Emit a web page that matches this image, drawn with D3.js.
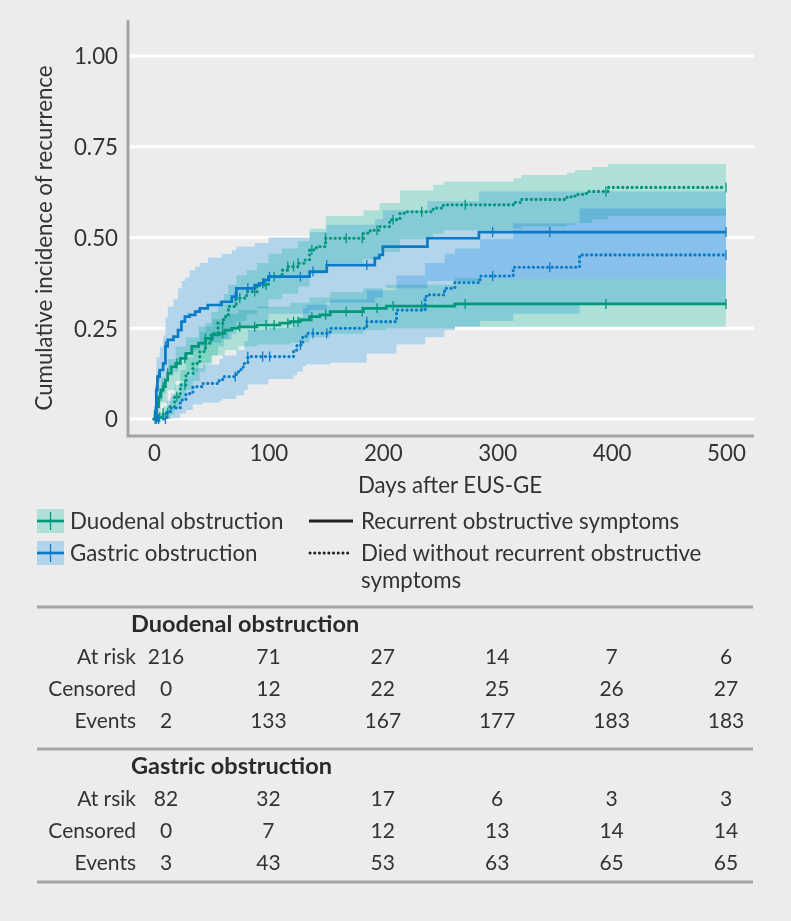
<!DOCTYPE html>
<html>
<head>
<meta charset="utf-8">
<script src="https://cdn.jsdelivr.net/npm/d3@7"></script>
<style>
  body { margin: 0; background: #ebeceb; }
  svg { display: block; font-family: Lato, "Open Sans", sans-serif; }
  .band { mix-blend-mode: multiply; }
</style>
</head>
<body>
<svg id="chart" width="791" height="921"></svg>
<script>
var width = 791;
var height = 921;

// x ticks and y ticks
var xTicks = [0, 100, 200, 300, 400, 500];
var yTicks = [0, 0.25, 0.5, 0.75, 1.0];
var yTickLabels = ["0", "0.25", "0.50", "0.75", "1.00"];

// Duodenal obstruction, recurrent obstructive symptoms [t, estimate]
var duoRecur = [[0,0],[1,0.01],[2,0.034],[4,0.061],[6,0.08],[8,0.089],[10,0.107],[12,0.126],[15,0.144],[19,0.153],[23,0.167],[28,0.181],[33,0.2],[39,0.209],[45,0.222],[51,0.232],[57,0.236],[62,0.245],[68,0.25],[74,0.254],[90,0.259],[110,0.264],[119,0.268],[128,0.273],[136,0.282],[145,0.287],[154,0.296],[183,0.305],[203,0.311],[263,0.317]];
// [t, lower, upper]
var duoRecurCI = [[0,0,0.01],[2,0.01,0.06],[6,0.045,0.115],[12,0.08,0.165],[19,0.105,0.2],[28,0.13,0.225],[39,0.155,0.255],[51,0.175,0.275],[62,0.19,0.29],[74,0.2,0.3],[90,0.205,0.31],[119,0.21,0.32],[136,0.225,0.335],[154,0.235,0.35],[183,0.245,0.36],[203,0.25,0.37],[263,0.254,0.388]];

// Duodenal obstruction, died without recurrence
var duoDied = [[0,0],[2,0.005],[8,0.016],[14,0.034],[18,0.061],[23,0.094],[28,0.126],[34,0.153],[40,0.186],[45,0.209],[50,0.236],[56,0.264],[61,0.282],[65,0.31],[72,0.333],[81,0.351],[90,0.369],[100,0.392],[112,0.41],[117,0.42],[126,0.429],[132,0.438],[136,0.466],[142,0.475],[150,0.498],[183,0.512],[189,0.52],[197,0.53],[206,0.549],[215,0.567],[221,0.571],[244,0.581],[253,0.59],[314,0.597],[321,0.605],[361,0.612],[368,0.619],[378,0.627],[397,0.638]];
var duoDiedCI = [[0,0,0.01],[8,0,0.035],[14,0.01,0.06],[18,0.03,0.095],[23,0.055,0.135],[28,0.08,0.17],[34,0.105,0.2],[40,0.13,0.24],[45,0.15,0.265],[50,0.175,0.295],[56,0.2,0.325],[61,0.22,0.345],[65,0.245,0.37],[72,0.27,0.395],[81,0.29,0.41],[90,0.305,0.43],[100,0.33,0.455],[112,0.345,0.47],[126,0.365,0.49],[136,0.4,0.525],[150,0.43,0.56],[183,0.44,0.575],[197,0.46,0.595],[215,0.495,0.63],[244,0.51,0.645],[253,0.52,0.654],[314,0.525,0.663],[321,0.53,0.672],[361,0.535,0.679],[368,0.54,0.686],[383,0.55,0.694],[397,0.56,0.703]];

// Gastric obstruction, recurrent obstructive symptoms
var gasRecur = [[0,0],[1,0.02],[2,0.08],[3,0.117],[5,0.135],[8,0.153],[10,0.2],[12,0.218],[17,0.227],[21,0.245],[24,0.268],[27,0.282],[31,0.287],[36,0.296],[40,0.305],[47,0.314],[59,0.323],[68,0.337],[72,0.36],[88,0.369],[92,0.374],[96,0.383],[100,0.392],[136,0.406],[151,0.424],[193,0.443],[197,0.452],[200,0.475],[239,0.498],[284,0.515]];
var gasRecurCI = [[0,0,0.02],[1,0,0.06],[2,0.03,0.17],[5,0.05,0.2],[8,0.07,0.23],[10,0.11,0.28],[12,0.12,0.31],[17,0.13,0.33],[21,0.15,0.36],[24,0.17,0.38],[27,0.18,0.39],[31,0.185,0.41],[36,0.19,0.42],[40,0.2,0.43],[47,0.21,0.445],[59,0.22,0.455],[68,0.235,0.465],[72,0.255,0.475],[88,0.265,0.485],[100,0.29,0.5],[136,0.3,0.515],[151,0.32,0.535],[193,0.335,0.55],[200,0.36,0.575],[239,0.38,0.6],[284,0.388,0.627]];

// Gastric obstruction, died without recurrence
var gasDied = [[0,0],[11,0.02],[15,0.03],[23,0.052],[28,0.07],[34,0.089],[43,0.098],[57,0.107],[60,0.117],[72,0.13],[76,0.143],[79,0.153],[82,0.172],[122,0.19],[125,0.204],[130,0.227],[133,0.236],[154,0.25],[186,0.268],[212,0.3],[237,0.328],[238,0.342],[254,0.36],[263,0.376],[285,0.394],[314,0.418],[372,0.452]];
var gasDiedCI = [[0,0,0.01],[11,0,0.05],[15,0.003,0.07],[23,0.015,0.1],[28,0.025,0.12],[34,0.04,0.14],[43,0.045,0.15],[57,0.05,0.165],[60,0.055,0.175],[72,0.065,0.19],[79,0.08,0.215],[82,0.095,0.245],[100,0.11,0.25],[122,0.12,0.265],[125,0.13,0.28],[130,0.145,0.305],[133,0.15,0.315],[154,0.155,0.33],[186,0.18,0.355],[212,0.205,0.395],[237,0.225,0.43],[254,0.245,0.455],[263,0.255,0.47],[285,0.27,0.495],[314,0.29,0.539],[372,0.32,0.58]];

// censoring times per group
var duoCensor = [2,3,5,8,12,20,27,45,60,75,88,98,105,117,122,126,138,150,168,182,195,209,234,272,395,500];
var gasCensor = [1,2,4,10,71,82,95,101,128,139,151,186,296,346,500];

// number at risk table
var tableTimes = [0, 100, 200, 300, 400, 500];
var rowNames = ["At risk", "Censored", "Events"];
var rowNamesGas = ["At rsik", "Censored", "Events"];
var duoAtRisk = [216, 71, 27, 14, 7, 6];
var duoCensored = [0, 12, 22, 25, 26, 27];
var duoEvents = [2, 133, 167, 177, 183, 183];
var gasAtRisk = [82, 32, 17, 6, 3, 3];
var gasCensored = [0, 7, 12, 13, 14, 14];
var gasEvents = [3, 43, 53, 63, 65, 65];

var tealLine = "#00977b";
var blueLine = "#0a7bc6";
var tealBand = "#bdf2ea";
var blueBand = "#c1e6ff";
var axisGray = "#a3a4a4";
var textCol = "#333333";
var bg = "#ebeceb";
var plotFont = 22.3;
var tableFont = 21;

var svg = d3.select("#chart");

var xScale = d3.scaleLinear().domain([0, 500]).range([154, 726]);
var yScale = d3.scaleLinear().domain([0, 1]).range([419, 56]);

// gridlines
svg.append("g").selectAll("line")
  .data(yTicks)
  .enter().append("line")
  .attr("x1", 128).attr("x2", 754)
  .attr("y1", function(d) { return yScale(d); })
  .attr("y2", function(d) { return yScale(d); })
  .attr("stroke", "#ffffff")
  .attr("stroke-width", 3);

function withEnd(arr) {
  var last = arr[arr.length - 1].slice();
  last[0] = 500;
  return arr.concat([last]);
}

var bandArea = d3.area()
  .curve(d3.curveStepAfter)
  .x(function(d) { return xScale(d[0]); })
  .y0(function(d) { return yScale(d[1]); })
  .y1(function(d) { return yScale(d[2]); });

var stepLine = d3.line()
  .curve(d3.curveStepAfter)
  .x(function(d) { return xScale(d[0]); })
  .y(function(d) { return yScale(d[1]); });

var bands = [
  {ci: duoRecurCI, color: tealBand},
  {ci: duoDiedCI, color: tealBand},
  {ci: gasRecurCI, color: blueBand},
  {ci: gasDiedCI, color: blueBand}
];

var bandG = svg.append("g").style("isolation", "isolate");
// opaque base so the gridlines do not show through
bandG.selectAll("path.base")
  .data(bands)
  .enter().append("path")
  .attr("class", "base")
  .attr("d", function(d) { return bandArea(withEnd(d.ci)); })
  .attr("fill", bg);
bandG.selectAll("path.band")
  .data(bands)
  .enter().append("path")
  .attr("class", "band")
  .attr("d", function(d) { return bandArea(withEnd(d.ci)); })
  .attr("fill", function(d) { return d.color; });

var curves = [
  {est: duoRecur, color: tealLine, dotted: false, censor: duoCensor},
  {est: duoDied, color: tealLine, dotted: true, censor: duoCensor},
  {est: gasRecur, color: blueLine, dotted: false, censor: gasCensor},
  {est: gasDied, color: blueLine, dotted: true, censor: gasCensor}
];

var bis = d3.bisector(function(d) { return d[0]; }).right;

curves.forEach(function(c) {
  svg.append("path")
    .attr("d", stepLine(withEnd(c.est)))
    .attr("fill", "none")
    .attr("stroke", c.color)
    .attr("stroke-width", c.dotted ? 3.2 : 2.7)
    .attr("stroke-linecap", c.dotted ? "round" : "butt")
    .attr("stroke-dasharray", c.dotted ? "0.1 4.6" : null);

  svg.append("g").selectAll("line")
    .data(c.censor)
    .enter().append("line")
    .attr("x1", function(d) { return xScale(d); })
    .attr("x2", function(d) { return xScale(d); })
    .attr("y1", function(d) { return yScale(c.est[bis(c.est, d) - 1][1]) - 5; })
    .attr("y2", function(d) { return yScale(c.est[bis(c.est, d) - 1][1]) + 5; })
    .attr("stroke", c.color)
    .attr("stroke-width", 1.3);
});

// axes lines
svg.append("path")
  .attr("d", "M128,20V436H754")
  .attr("fill", "none")
  .attr("stroke", axisGray)
  .attr("stroke-width", 3);

var yAxis = d3.axisLeft(yScale)
  .tickValues(yTicks)
  .tickSize(0)
  .tickPadding(0)
  .tickFormat(function(d, i) { return yTickLabels[i]; });

var gy = svg.append("g")
  .attr("transform", "translate(118,0)")
  .call(yAxis);
gy.select(".domain").remove();
gy.selectAll("text")
  .attr("font-family", "Lato, sans-serif")
  .attr("font-size", plotFont)
  .attr("fill", textCol)
  .attr("dy", "0.35em");

var xAxis = d3.axisBottom(xScale)
  .tickValues(xTicks)
  .tickSize(0)
  .tickPadding(0);

var gx = svg.append("g")
  .attr("transform", "translate(0,445)")
  .call(xAxis);
gx.select(".domain").remove();
gx.selectAll("text")
  .attr("font-family", "Lato, sans-serif")
  .attr("font-size", plotFont)
  .attr("fill", textCol)
  .attr("dy", "0.71em");

svg.append("text")
  .attr("x", 450).attr("y", 493)
  .attr("text-anchor", "middle")
  .attr("font-size", plotFont)
  .attr("fill", textCol)
  .text("Days after EUS-GE");

svg.append("text")
  .attr("transform", "translate(52,238) rotate(-90)")
  .attr("text-anchor", "middle")
  .attr("font-size", plotFont)
  .attr("fill", textCol)
  .text("Cumulative incidence of recurrence");

// legend
var legendGroups = [
  {name: "Duodenal obstruction", band: tealBand, line: tealLine, y: 521},
  {name: "Gastric obstruction", band: blueBand, line: blueLine, y: 553}
];
legendGroups.forEach(function(g) {
  svg.append("rect")
    .attr("x", 37).attr("y", g.y - 12)
    .attr("width", 27).attr("height", 24)
    .attr("fill", g.band)
    .style("mix-blend-mode", "multiply");
  svg.append("line")
    .attr("x1", 37).attr("x2", 64)
    .attr("y1", g.y).attr("y2", g.y)
    .attr("stroke", g.line).attr("stroke-width", 2.7);
  svg.append("line")
    .attr("x1", 50.5).attr("x2", 50.5)
    .attr("y1", g.y - 9).attr("y2", g.y + 9)
    .attr("stroke", g.line).attr("stroke-width", 1.3);
  svg.append("text")
    .attr("x", 70).attr("y", g.y + 8)
    .attr("font-size", plotFont)
    .attr("fill", textCol)
    .text(g.name);
});

svg.append("line")
  .attr("x1", 309).attr("x2", 353)
  .attr("y1", 521).attr("y2", 521)
  .attr("stroke", "#222").attr("stroke-width", 3);
svg.append("line")
  .attr("x1", 310).attr("x2", 350)
  .attr("y1", 553).attr("y2", 553)
  .attr("stroke", "#222").attr("stroke-width", 3)
  .attr("stroke-linecap", "round")
  .attr("stroke-dasharray", "0.1 4.6");
svg.append("text")
  .attr("x", 361).attr("y", 529)
  .attr("font-size", plotFont).attr("fill", textCol)
  .text("Recurrent obstructive symptoms");
svg.append("text")
  .attr("x", 361).attr("y", 561)
  .attr("font-size", plotFont).attr("fill", textCol)
  .text("Died without recurrent obstructive");
svg.append("text")
  .attr("x", 361).attr("y", 588)
  .attr("font-size", plotFont).attr("fill", textCol)
  .text("symptoms");

// risk table
var rule = [607, 749, 882];
svg.append("g").selectAll("line")
  .data(rule)
  .enter().append("line")
  .attr("x1", 37).attr("x2", 753)
  .attr("y1", function(d) { return d; })
  .attr("y2", function(d) { return d; })
  .attr("stroke", axisGray)
  .attr("stroke-width", 3);

var colX = function(t, i) { return i === 0 ? 166 : xScale(t); };

function drawBlock(title, names, rows, top) {
  svg.append("text")
    .attr("x", 131).attr("y", top + 25)
    .attr("font-size", 23.5).attr("font-weight", "bold")
    .attr("fill", "#2a2a2a")
    .text(title);
  rows.forEach(function(vals, r) {
    var yy = top + 57 + r * 32;
    svg.append("text")
      .attr("x", 136).attr("y", yy)
      .attr("text-anchor", "end")
      .attr("font-size", tableFont).attr("fill", textCol)
      .text(names[r]);
    svg.append("g").selectAll("text")
      .data(vals)
      .enter().append("text")
      .attr("x", function(d, i) { return colX(tableTimes[i], i); })
      .attr("y", yy)
      .attr("text-anchor", "middle")
      .attr("font-size", tableFont).attr("fill", textCol)
      .text(function(d) { return d; });
  });
}

drawBlock("Duodenal obstruction", rowNames, [duoAtRisk, duoCensored, duoEvents], 607);
drawBlock("Gastric obstruction", rowNamesGas, [gasAtRisk, gasCensored, gasEvents], 749);
</script>
</body>
</html>
